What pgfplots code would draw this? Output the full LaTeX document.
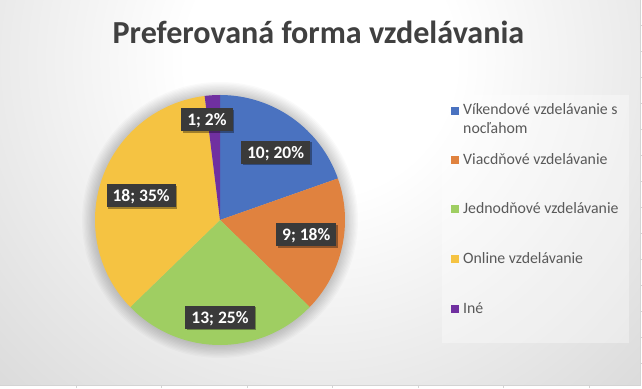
\documentclass[border=0pt]{standalone}
\usepackage{pgfplots}
\pgfplotsset{compat=1.18}
\usepackage{pgfplotstable}
\usepackage{fontspec}
\setmainfont{Carlito}
\usetikzlibrary{shadows}

\definecolor{pie0}{HTML}{4A72C0}
\definecolor{pie1}{HTML}{E0823F}
\definecolor{pie2}{HTML}{9FCE62}
\definecolor{pie3}{HTML}{F5C342}
\definecolor{pie4}{HTML}{7030A0}
\definecolor{titlegray}{HTML}{404040}
\definecolor{leggray}{HTML}{595959}
\definecolor{labbox}{HTML}{3A3A3A}
\definecolor{bgouter}{HTML}{BCBCBC}
\definecolor{gridc}{HTML}{D4D4D4}
\pgfdeclareradialshading{bgshade}{\pgfpoint{0bp}{0bp}}{color(0bp)=(white); color(4bp)=(white); color(22bp)=(bgouter); color(50bp)=(bgouter)}

% value, label angle offset, label radius factor
\pgfplotstableread{
value la lr
10 -4.1 0.70
9 2.6 0.70
13 0 0.78
18 2.4 0.66
1 3.9 0.81
}\piedata

\def\total{0}%
\pgfplotstableforeachcolumnelement{value}\of\piedata\as\vv{%
  \pgfmathsetmacro\tmp{\total+\vv}\xdef\total{\tmp}}%
\def\curang{90}%
\foreach \i in {0,...,4}{%
  \pgfplotstablegetelem{\i}{value}\of\piedata \let\vv\pgfplotsretval
  \pgfplotstablegetelem{\i}{la}\of\piedata \let\laoff\pgfplotsretval
  \pgfplotstablegetelem{\i}{lr}\of\piedata \let\lrad\pgfplotsretval
  \pgfmathsetmacro\eang{\curang-360*\vv/\total}%
  \pgfmathsetmacro\mang{(\curang+\eang)/2+\laoff}%
  \pgfmathsetmacro\lx{\lrad*cos(\mang)}%
  \pgfmathsetmacro\ly{\lrad*sin(\mang)}%
  \pgfmathtruncatemacro\pct{round(100*\vv/\total)}%
  \expandafter\xdef\csname sa\i\endcsname{\curang}%
  \expandafter\xdef\csname ea\i\endcsname{\eang}%
  \expandafter\xdef\csname lx\i\endcsname{\lx}%
  \expandafter\xdef\csname ly\i\endcsname{\ly}%
  \expandafter\xdef\csname lab\i\endcsname{\vv; \pct\noexpand\%}%
  \xdef\curang{\eang}%
}%

\tikzset{
  labelbox/.style={fill=labbox, text=white,
    font=\bfseries\fontsize{17.5}{20}\selectfont,
    inner xsep=6pt, inner ysep=0pt, minimum height=23pt,
    text height=11.5pt, text depth=0pt,
    drop shadow={shadow xshift=1.5pt, shadow yshift=-1.5pt, opacity=0.35, fill=black}},
  legtext/.style={anchor=base west, inner sep=0pt, text=leggray,
    font=\fontsize{15.8}{18}\selectfont}
}

\begin{document}
\begin{tikzpicture}
\path[use as bounding box] (0,0) rectangle (642pt,388pt);
\fill[white] (0,0) rectangle (642pt,388pt);
\begin{scope}
  \clip (0,3pt) rectangle (640pt,388pt);
  \shade[shading=bgshade] (320pt,328pt) circle (840pt);
\end{scope}
\draw[gridc] (0,3pt) -- (640pt,3pt) -- (640pt,388pt);
\foreach \gx in {76,161,247,332,418,503,589}{\draw[gridc] (\gx pt,0) -- (\gx pt,3pt);}
\foreach \gy in {25,51,77,103,129,155,181,207,233,259,285,311,337,363}{\draw[gridc] (640pt,388pt-\gy pt) -- (642pt,388pt-\gy pt);}

% title
\node[anchor=base, inner sep=0pt, text=titlegray, font=\bfseries\fontsize{32.1}{36}\selectfont]
  at (318.5pt,344.5pt) {Preferovaná forma vzdelávania};

\begin{axis}[x=125pt, y=125pt, xmin=-1.2, xmax=1.2, ymin=-1.2, ymax=1.2,
  hide axis, clip=false, anchor=south west, at={(70pt,18pt)}]
  \pgfplotsinvokeforeach{1,...,10}{%
    \fill[black, opacity=0.018] (axis cs:0,0) circle[radius={125pt+#1*1.3pt}];
  }
  \pgfplotsinvokeforeach{0,...,4}{%
    \fill[pie#1] (axis cs:0,0) -- ++(\csname sa#1\endcsname:125pt)
      arc[start angle=\csname sa#1\endcsname, end angle=\csname ea#1\endcsname, radius=125pt] -- cycle;
  }
  \pgfplotsinvokeforeach{0,...,4}{%
    \node[labelbox] at (axis cs:\csname lx#1\endcsname,\csname ly#1\endcsname) {\csname lab#1\endcsname};
  }
\end{axis}

% legend
\fill[white, opacity=0.35] (442pt,45pt) rectangle (629pt,293pt);
\fill[pie0] (451pt,273pt) rectangle (459pt,281pt);
\fill[pie1] (451pt,224pt) rectangle (459pt,232pt);
\fill[pie2] (451pt,175pt) rectangle (459pt,183pt);
\fill[pie3] (451pt,125pt) rectangle (459pt,133pt);
\fill[pie4] (451pt,75pt) rectangle (459pt,83pt);
\node[legtext] at (463pt,273pt) {Víkendové vzdelávanie s};
\node[legtext] at (463pt,254pt) {nocľahom};
\node[legtext] at (463pt,223pt) {Viacdňové vzdelávanie};
\node[legtext] at (463pt,174pt) {Jednodňové vzdelávanie};
\node[legtext] at (463pt,124pt) {Online vzdelávanie};
\node[legtext] at (463pt,74pt) {Iné};
\end{tikzpicture}
\end{document}
